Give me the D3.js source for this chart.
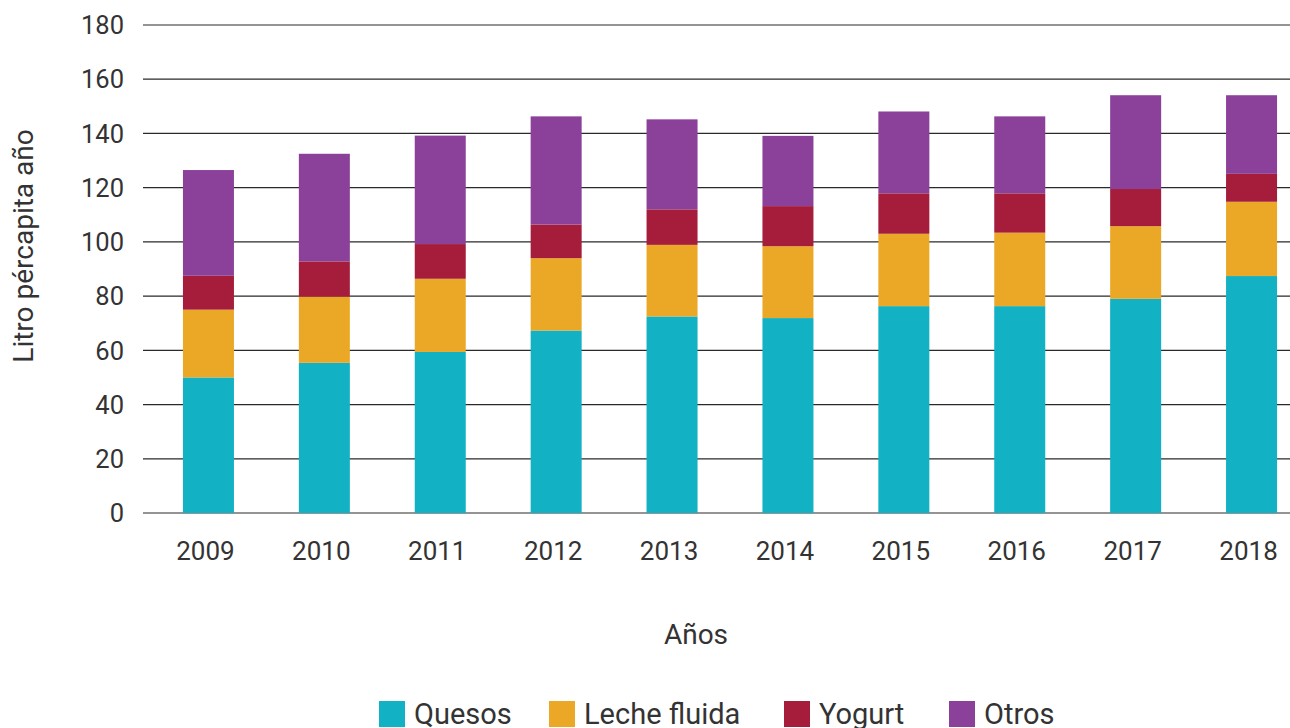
<!DOCTYPE html>
<html><head><meta charset="utf-8">
<script src="https://cdn.jsdelivr.net/npm/d3@7"></script>
<style>body{margin:0;background:#fff}svg{display:block}text{font-family:Roboto,sans-serif;fill:#333}</style>
</head><body><svg id="c" width="1290" height="728"></svg>
<script>
const years = ["2009","2010","2011","2012","2013","2014","2015","2016","2017","2018"];
const seriesNames = ["Quesos","Leche fluida","Yogurt","Otros"];
const quesos = [50,55.4,59.4,67.3,72.5,71.9,76.3,76.3,79,87.4];
const leche = [25,24.4,27,26.7,26.4,26.5,26.7,27.1,26.8,27.4];
const yogurt = [12.5,13,12.8,12.4,13.1,14.8,14.9,14.5,13.7,10.3];
const otros = [39,39.7,40,39.9,33.2,25.9,30.2,28.4,34.6,29];
const colors = ["#12b1c3","#eba827","#a61d3b","#8b4199"];
const yTicks = [0,20,40,60,80,100,120,140,160,180];

const svg = d3.select("#c");
const rows = years.map((y,i)=>({year:y,"Quesos":quesos[i],"Leche fluida":leche[i],"Yogurt":yogurt[i],"Otros":otros[i]}));
const stack = d3.stack().keys(seriesNames)(rows);

const x = d3.scaleBand().domain(years).range([150.5,1309.5]).paddingInner(0.56).paddingOuter(0.28);
const y = d3.scaleLinear().domain([0,180]).range([513,25]);

// grid
svg.append("g").selectAll("line").data(yTicks).join("line")
  .attr("x1",143).attr("x2",1290)
  .attr("y1",d=>y(d)).attr("y2",d=>y(d))
  .attr("stroke","#2a2a2a").attr("stroke-width",1.2);

// y tick labels
svg.append("g").selectAll("text").data(yTicks).join("text")
  .attr("x",124).attr("y",d=>y(d)).attr("dy","0.36em")
  .attr("text-anchor","end").attr("font-size",25.5).text(d=>d);

// bars
svg.append("g").selectAll("g").data(stack).join("g")
  .attr("fill",(d,i)=>colors[i])
  .selectAll("rect").data(d=>d).join("rect")
  .attr("x",d=>x(d.data.year)).attr("width",x.bandwidth())
  .attr("y",d=>y(d[1])).attr("height",d=>y(d[0])-y(d[1]));

// x labels
svg.append("g").selectAll("text").data(years).join("text")
  .attr("x",d=>x(d)+x.bandwidth()/2-3).attr("y",560)
  .attr("text-anchor","middle").attr("font-size",26).text(d=>d);

// axis titles
svg.append("text").attr("x",696).attr("y",644).attr("text-anchor","middle").attr("font-size",28).text("Años");
svg.append("text").attr("transform","translate(33,246) rotate(-90)").attr("text-anchor","middle").attr("font-size",28).text("Litro pércapita año");

// legend
const legX = [379,549,784,949];
const leg = svg.append("g").selectAll("g").data(seriesNames).join("g")
  .attr("transform",(d,i)=>`translate(${legX[i]},701)`);
leg.append("rect").attr("width",26).attr("height",26).attr("fill",(d,i)=>colors[i]);
leg.append("text").attr("x",35).attr("y",23).attr("font-size",29).text(d=>d);
</script></body></html>
